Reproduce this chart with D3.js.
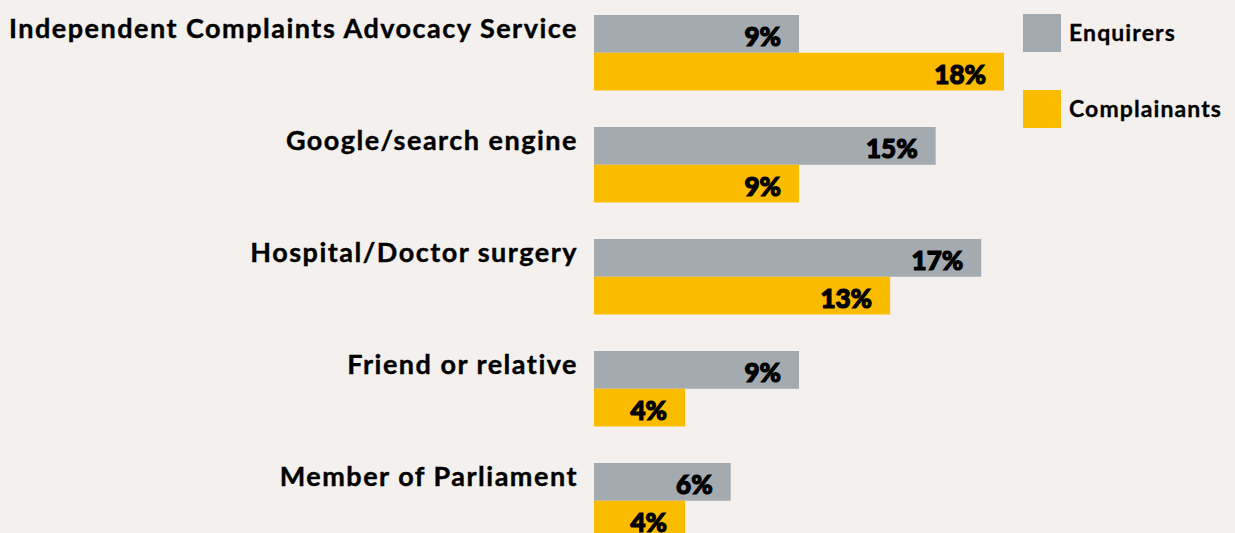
<!doctype html>
<html>
<head>
<script src="https://d3js.org/d3.v7.min.js"></script>
<style>
  body { margin: 0; background: #f3f0ed; }
  svg { display: block; }
</style>
</head>
<body>
<svg id="chart" width="1235" height="533"></svg>
<script>
    // data
    var categories = ["Independent Complaints Advocacy Service",
        "Google/search engine",
        "Hospital/Doctor surgery",
        "Friend or relative",
        "Member of Parliament"];
    var seriesNames = ["Enquirers", "Complainants"];
    var enquirers = [9, 15, 17, 9, 6];
    var complainants = [18, 9, 13, 4, 4];

    var colors = { "Enquirers": "#a4abb0", "Complainants": "#fbbc00" };

    var svg = d3.select("#chart");

    // x: percent -> px
    var x = d3.scaleLinear()
        .domain([0, 18])
        .range([594, 1004]);

    // one band per category, 112px step
    var y0 = d3.scaleBand()
        .domain(categories)
        .range([15, 15 + categories.length * 112]);

    var y1 = d3.scaleBand()
        .domain(seriesNames)
        .range([0, 75.5]);

    var rows = categories.map(function (c, i) {
        return { cat: c, vals: [
            { s: "Enquirers", v: enquirers[i] },
            { s: "Complainants", v: complainants[i] }
        ] };
    });

    var groups = svg.selectAll("g.row")
        .data(rows)
        .enter()
        .append("g")
        .attr("class", "row")
        .attr("transform", d => "translate(0," + y0(d.cat) + ")");

    // category label
    groups.append("text")
        .attr("x", 578)
        .attr("y", 23)
        .attr("text-anchor", "end")
        .style("font-family", "Lato, 'Open Sans', sans-serif")
        .style("font-weight", "bold")
        .style("font-size", "27px")
        .style("letter-spacing", "1.5px")
        .style("fill", "#000")
        .style("stroke", "#000")
        .style("stroke-width", "0.4px")
        .text(d => d.cat);

    var bars = groups.selectAll("g.bar")
        .data(d => d.vals)
        .enter()
        .append("g")
        .attr("class", "bar");

    bars.append("rect")
        .attr("x", x(0))
        .attr("y", d => y1(d.s))
        .attr("width", d => x(d.v) - x(0))
        .attr("height", y1.bandwidth())
        .style("fill", d => colors[d.s]);

    bars.append("text")
        .attr("x", d => x(d.v) - 18)
        .attr("y", d => y1(d.s) + 31)
        .attr("text-anchor", "end")
        .style("font-family", "Lato, 'Open Sans', sans-serif")
        .style("font-weight", "900")
        .style("font-size", "26px")
        .style("fill", "#000")
        .style("stroke", "#000")
        .style("stroke-width", "1.2px")
        .text(d => d.v + "%");

    // legend
    var legend = svg.selectAll("g.legend")
        .data(seriesNames)
        .enter()
        .append("g")
        .attr("class", "legend")
        .attr("transform", (d, i) => "translate(1023," + (14 + i * 76) + ")");

    legend.append("rect")
        .attr("width", 38)
        .attr("height", 38)
        .style("fill", d => colors[d]);

    legend.append("text")
        .attr("x", 46)
        .attr("y", 27)
        .style("font-family", "Lato, 'Open Sans', sans-serif")
        .style("font-weight", "bold")
        .style("font-size", "23px")
        .style("letter-spacing", "1.1px")
        .style("fill", "#000")
        .style("stroke", "#000")
        .style("stroke-width", "0.3px")
        .text(d => d);
</script>
</body>
</html>
